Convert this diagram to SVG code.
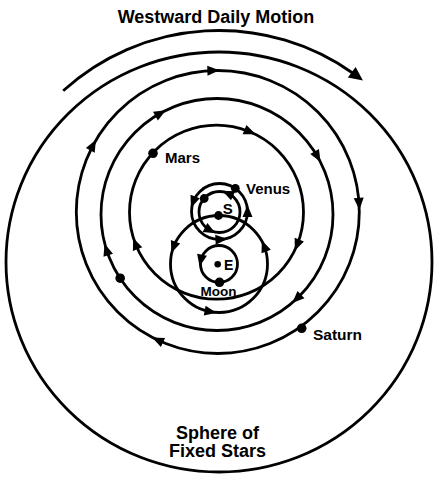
<svg xmlns="http://www.w3.org/2000/svg" xmlns:xlink="http://www.w3.org/1999/xlink" width="438" height="480" viewBox="0 0 438 480">
<style>
.orb{fill:none;stroke:#000;stroke-width:2.8}
.dot{fill:#000}
.lbl{font-family:"Liberation Sans",Arial,Helvetica,sans-serif;font-weight:bold;fill:#000}
</style>
<defs>
<path id="ah" d="M6.5,0 L-5.5,-5 L-5.5,5 Z" fill="#000"/>
<path id="bigah" d="M7,0 L-7,-6.5 L-7,6.5 Z" fill="#000"/>
</defs>
<rect width="438" height="480" fill="#fff"/>

<g id="sphere-of-fixed-stars">
<ellipse class="orb" cx="219" cy="262" rx="213" ry="210"/>
</g>

<g id="westward-motion">
<path class="orb" d="M63.2,90.8 A231.5,231.5 0 0 1 353.4,73.5"/>
<use xlink:href="#bigah" transform="translate(219,262) rotate(-53.3) translate(231.5,0) rotate(90)"/>
</g>

<g id="saturn">
<circle class="orb" cx="217.8" cy="212" r="141.5"/>
<circle class="dot" cx="301.7" cy="328.3" r="4.8"/>
</g>

<g id="jupiter">
<circle class="orb" cx="217" cy="214.5" r="116"/>
<circle class="dot" cx="120.2" cy="278.2" r="4.8"/>
</g>

<g id="mars">
<circle class="orb" cx="216.5" cy="212.2" r="87"/>
<circle class="dot" cx="153" cy="153.3" r="4.8"/>
</g>

<g id="sun-orbit">
<circle class="orb" cx="219" cy="264" r="48.5"/>
</g>

<g id="venus">
<circle class="orb" cx="219.5" cy="211.5" r="28"/>
<circle class="dot" cx="235.3" cy="188.3" r="4.4"/>
</g>

<g id="mercury">
<circle class="orb" cx="219.5" cy="212" r="20.5"/>
<circle class="dot" cx="204.2" cy="198.5" r="4.4"/>
</g>

<g id="moon">
<circle class="orb" cx="219" cy="264" r="18.5"/>
<circle class="dot" cx="219.5" cy="282.3" r="4.8"/>
</g>

<g id="sun">
<circle class="dot" cx="218.5" cy="215.5" r="4.4"/>
</g>

<g id="earth">
<circle class="dot" cx="217.7" cy="264.3" r="3.3"/>
</g>

<g id="connectors">
<use xlink:href="#ah" transform="translate(217.8,212) rotate(-92) translate(141.5,0) rotate(90)"/>
<use xlink:href="#ah" transform="translate(217.8,212) rotate(-152) translate(141.5,0) rotate(90)"/>
<use xlink:href="#ah" transform="translate(217.8,212) rotate(-3.5) translate(141.5,0) rotate(90)"/>
<use xlink:href="#ah" transform="translate(217.8,212) rotate(115) translate(141.5,0) rotate(90)"/>
<use xlink:href="#ah" transform="translate(217,214.5) rotate(-119.3) translate(116,0) rotate(90)"/>
<use xlink:href="#ah" transform="translate(217,214.5) rotate(-30.1) translate(116,0) rotate(90)"/>
<use xlink:href="#ah" transform="translate(217,214.5) rotate(46.4) translate(116,0) rotate(90)"/>
<use xlink:href="#ah" transform="translate(217,214.5) rotate(162.2) translate(116,0) rotate(90)"/>
<use xlink:href="#ah" transform="translate(216.5,212.2) rotate(-67.6) translate(87,0) rotate(90)"/>
<use xlink:href="#ah" transform="translate(216.5,212.2) rotate(21.9) translate(87,0) rotate(90)"/>
<use xlink:href="#ah" transform="translate(216.5,212.2) rotate(158.5) translate(87,0) rotate(90)"/>
<use xlink:href="#ah" transform="translate(219,264) rotate(-159.3) translate(48.5,0) rotate(-90)"/>
<use xlink:href="#ah" transform="translate(219,264) rotate(-21.3) translate(48.5,0) rotate(-90)"/>
<use xlink:href="#ah" transform="translate(219,264) rotate(100.6) translate(48.5,0) rotate(-90)"/>
<use xlink:href="#ah" transform="translate(219.5,211.5) rotate(-159.6) translate(28,0) rotate(-90)"/>
<use xlink:href="#ah" transform="translate(219.5,211.5) rotate(0) translate(28,0) rotate(-90)"/>
<use xlink:href="#ah" transform="translate(219.5,211.5) rotate(87) translate(28,0) rotate(-90)"/>
<use xlink:href="#ah" transform="translate(219.5,212) rotate(-65) translate(20.5,0) rotate(-90)"/>
<use xlink:href="#ah" transform="translate(219.5,212) rotate(118) translate(20.5,0) rotate(-90)"/>
<use xlink:href="#ah" transform="translate(219,264) rotate(-168) translate(18.5,0) rotate(-90)"/>
</g>

<g id="labels">
<text class="lbl" x="216" y="23" font-size="18" text-anchor="middle">Westward Daily Motion</text>
<text class="lbl" x="165" y="163" font-size="15">Mars</text>
<text class="lbl" x="246" y="194.3" font-size="15">Venus</text>
<text class="lbl" x="222.8" y="214" font-size="15">S</text>
<text class="lbl" x="224" y="269.5" font-size="14">E</text>
<text class="lbl" x="218.5" y="295.5" font-size="13.5" text-anchor="middle">Moon</text>
<text class="lbl" x="313" y="339.5" font-size="15.5">Saturn</text>
<text class="lbl" x="217.5" y="438.5" font-size="18" text-anchor="middle">Sphere of</text>
<text class="lbl" x="217.5" y="456.7" font-size="18" text-anchor="middle">Fixed Stars</text>
</g>
</svg>
